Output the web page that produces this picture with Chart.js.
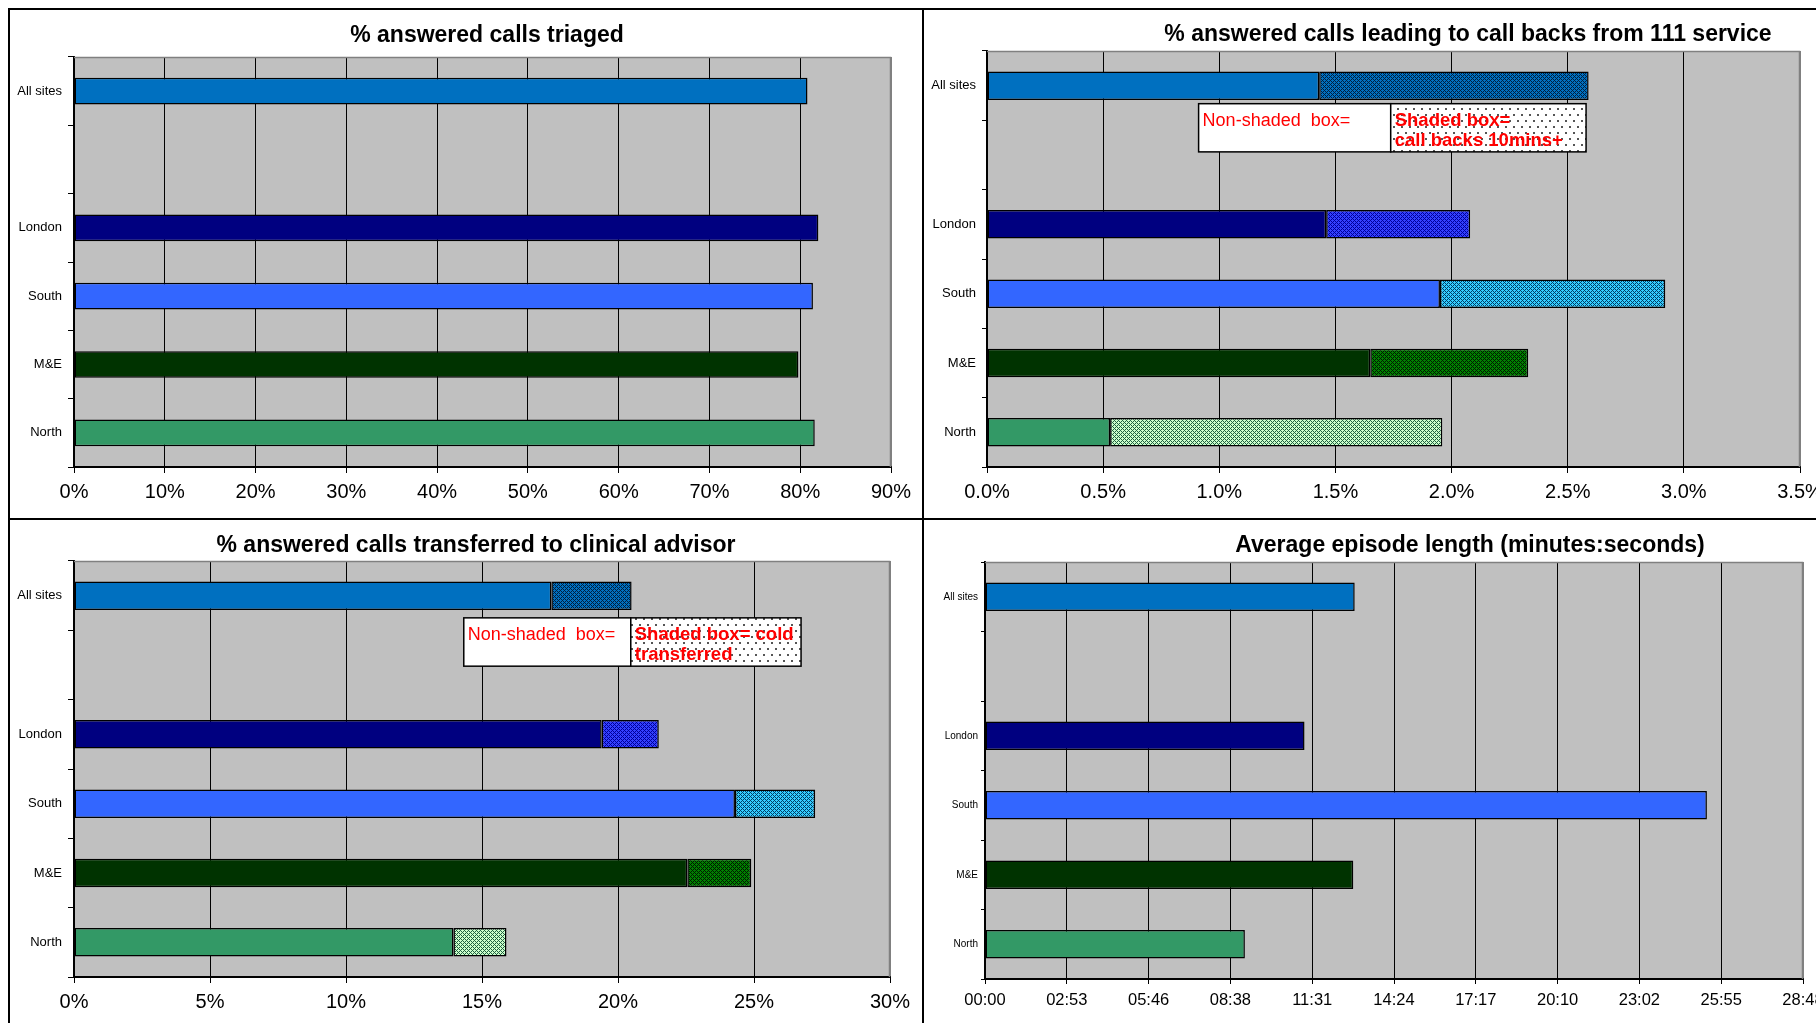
<!DOCTYPE html>
<html>
<head>
<meta charset="utf-8">
<title>111 service call handling by site</title>
<script src="https://cdn.jsdelivr.net/npm/chart.js@4.4.1/dist/chart.umd.min.js"></script>
<style>
  html, body { margin: 0; padding: 0; background: #fff; width: 1816px; height: 1023px; overflow: hidden; }
  .panel { position: absolute; }
  .rule { position: absolute; background: #000; }
  canvas { display: block; }
</style>
</head>
<body>
<div class="panel" style="left:10px;top:10px;"><canvas id="triaged" width="912" height="508"></canvas></div>
<div class="panel" style="left:924px;top:10px;"><canvas id="callbacks" width="1100" height="508"></canvas></div>
<div class="panel" style="left:10px;top:520px;"><canvas id="transfers" width="912" height="503"></canvas></div>
<div class="panel" style="left:924px;top:520px;"><canvas id="episode" width="1100" height="503"></canvas></div>

<div class="rule" style="left:8px;top:8px;width:1808px;height:2px;"></div>
<div class="rule" style="left:8px;top:8px;width:2px;height:1015px;"></div>
<div class="rule" style="left:922px;top:8px;width:2px;height:1015px;"></div>
<div class="rule" style="left:8px;top:518px;width:1808px;height:2px;"></div>

<script>
// ---- data -------------------------------------------------------------
const sites = ['All sites', '', 'London', 'South', 'M&E', 'North'];

// % of answered calls that were triaged
const triagedPct = [80.8, null, 82.0, 81.4, 79.8, 81.6];

// % of answered calls leading to a call back (within 10 mins / 10 mins+)
const callBackUnder10Pct = [1.43, null, 1.46, 1.95, 1.65, 0.53];
const callBackOver10Pct  = [1.16, null, 0.62, 0.97, 0.68, 1.43];

// % of answered calls transferred to a clinical advisor (warm / cold)
const transferWarmPct = [17.55, null, 19.40, 24.30, 22.55, 13.95];
const transferColdPct = [2.95, null, 2.10, 2.95, 2.35, 1.95];

// average episode length, seconds
const episodeSeconds = [781, null, 675, 1525, 778, 549];

// axis ticks
const triagedTicks  = [0, 10, 20, 30, 40, 50, 60, 70, 80, 90];
const callBackTicks = [0, 0.5, 1, 1.5, 2, 2.5, 3, 3.5];
const transferTicks = [0, 5, 10, 15, 20, 25, 30];
const episodeTickSeconds = [0, 172.8, 345.6, 518.4, 691.2, 864, 1036.8, 1209.6, 1382.4, 1555.2, 1728];
const episodeTickLabels  = ['00:00', '02:53', '05:46', '08:38', '11:31', '14:24', '17:17', '20:10', '23:02', '25:55', '28:48'];

// ---- styling ----------------------------------------------------------
const FONT = "'Liberation Sans', Arial, Helvetica, sans-serif";
Chart.defaults.font.family = FONT;
Chart.defaults.color = '#000';

const siteColours = ['#0070C0', '#ffffff', '#000080', '#3366FF', '#003300', '#339966'];
const hatchBack   = ['#0070C0', '#ffffff', '#3340FF', '#33CCFF', '#008000', '#CCFFCC'];
const hatchLine   = ['#002040', '#ffffff', '#00009A', '#003F66', '#001A00', '#1F6040'];

function makeHatch(bg, fg) {
  const c = document.createElement('canvas');
  c.width = 4; c.height = 4;
  const g = c.getContext('2d');
  g.fillStyle = bg; g.fillRect(0, 0, 4, 4);
  g.fillStyle = fg;
  for (let y = 0; y < 4; y++) {
    for (let x = 0; x < 4; x++) {
      if (x === y || (x + y) % 4 === 0) g.fillRect(x, y, 1, 1);
    }
  }
  return g.createPattern(c, 'repeat');
}

function makeDots() {
  const c = document.createElement('canvas');
  c.width = 8; c.height = 12;
  const g = c.getContext('2d');
  g.fillStyle = '#fff'; g.fillRect(0, 0, 8, 12);
  g.fillStyle = '#555';
  g.fillRect(1, 2, 2, 2);
  g.fillRect(5, 8, 2, 2);
  return g.createPattern(c, 'repeat');
}

const hatchPatterns = hatchBack.map((bg, i) => makeHatch(bg, hatchLine[i]));
const dotPattern = makeDots();

// grey plot area with a thin grey frame on its top and right edges
const plotFrame = {
  id: 'plotFrame',
  beforeDraw(chart) {
    const { ctx, chartArea: a } = chart;
    ctx.save();
    ctx.fillStyle = '#C0C0C0';
    ctx.fillRect(a.left, a.top, a.right - a.left, a.bottom - a.top);
    ctx.restore();
  },
  beforeDatasetsDraw(chart) {
    const { ctx, chartArea: a } = chart;
    ctx.save();
    ctx.strokeStyle = '#808080';
    ctx.lineWidth = 1.5;
    ctx.beginPath();
    ctx.moveTo(a.left, a.top + 0.5);
    ctx.lineTo(a.right - 0.5, a.top + 0.5);
    ctx.lineTo(a.right - 0.5, a.bottom);
    ctx.stroke();
    ctx.restore();
  }
};

// bold heading above each plot
const panelTitle = {
  id: 'panelTitle',
  afterDraw(chart, args, opts) {
    if (!opts.text) return;
    const ctx = chart.ctx;
    ctx.save();
    ctx.font = `bold ${opts.size}px ${FONT}`;
    ctx.fillStyle = '#000';
    ctx.textAlign = 'center';
    ctx.textBaseline = 'alphabetic';
    ctx.fillText(opts.text, opts.x, opts.y);
    ctx.restore();
  }
};

// key boxes explaining the plain and shaded bar segments
const keyBox = {
  id: 'keyBox',
  afterDatasetsDraw(chart, args, opts) {
    if (!opts.boxes) return;
    const xs = chart.scales.x, ys = chart.scales.y, ctx = chart.ctx;
    const top = ys.getPixelForValue(opts.from);
    const bottom = ys.getPixelForValue(opts.to);
    ctx.save();
    opts.boxes.forEach(b => {
      const l = xs.getPixelForValue(b.x0), r = xs.getPixelForValue(b.x1);
      ctx.fillStyle = b.dotted ? dotPattern : '#fff';
      ctx.fillRect(l, top, r - l, bottom - top);
      ctx.strokeStyle = '#000';
      ctx.lineWidth = 1.5;
      ctx.strokeRect(l, top, r - l, bottom - top);
      ctx.fillStyle = '#FF0000';
      ctx.font = `${b.bold ? 'bold ' : ''}${b.bold ? 18.5 : 18}px ${FONT}`;
      ctx.textAlign = 'left';
      ctx.textBaseline = 'alphabetic';
      b.lines.forEach((t, i) => ctx.fillText(t, l + 4, top + 22 + i * 20));
    });
    ctx.restore();
  }
};

function makeChart(id, cfg) {
  const lastTick = cfg.ticks.length - 1;
  const datasets = cfg.series.map((s, k) => ({
    data: s,
    backgroundColor: k === 0 ? siteColours : hatchPatterns,
    borderColor: '#000',
    borderWidth: 1.5,
    borderSkipped: false,
    categoryPercentage: 1,
    barPercentage: cfg.barPct
  }));
  return new Chart(document.getElementById(id), {
    type: 'bar',
    data: { labels: sites, datasets },
    plugins: [plotFrame, panelTitle, keyBox],
    options: {
      responsive: false,
      animation: false,
      indexAxis: 'y',
      layout: { padding: { left: 0, top: cfg.padTop, right: cfg.padRight, bottom: 0 } },
      plugins: {
        legend: { display: false },
        tooltip: { enabled: false },
        title: { display: false },
        panelTitle: cfg.title,
        keyBox: cfg.key || {}
      },
      scales: {
        x: {
          type: 'linear',
          stacked: true,
          min: cfg.ticks[0],
          max: cfg.ticks[lastTick],
          bounds: 'data',
          afterBuildTicks: s => { s.ticks = cfg.ticks.map(v => ({ value: v })); },
          afterFit: s => { s.height = cfg.xAxisHeight; },
          ticks: {
            autoSkip: false,
            maxRotation: 0,
            padding: cfg.xTickPad,
            font: { size: cfg.xFont },
            color: '#000',
            callback: (v, i) => cfg.tickLabel(v, i)
          },
          grid: {
            color: c => (c.index === lastTick ? '#808080' : '#000'),
            tickColor: '#000',
            lineWidth: 1,
            drawTicks: true,
            tickLength: cfg.xTickLen
          },
          border: { display: true, color: '#000', width: 2 }
        },
        y: {
          stacked: true,
          afterFit: s => { s.width = cfg.yAxisWidth; },
          ticks: {
            padding: cfg.yTickPad,
            font: { size: cfg.yFont },
            color: '#000',
            autoSkip: false
          },
          grid: {
            drawOnChartArea: false,
            drawTicks: true,
            tickLength: cfg.yTickLen,
            color: '#000',
            lineWidth: 1
          },
          border: { display: true, color: '#000', width: 2 }
        }
      }
    }
  });
}

makeChart('triaged', {
  series: [triagedPct],
  ticks: triagedTicks,
  tickLabel: v => v + '%',
  barPct: 0.39,
  padTop: 47, padRight: 31, yAxisWidth: 64, xAxisHeight: 51,
  xFont: 20, xTickLen: 6, xTickPad: 7,
  yFont: 13, yTickLen: 6, yTickPad: 6,
  title: { text: '% answered calls triaged', x: 477, y: 32, size: 23 }
});

makeChart('callbacks', {
  series: [callBackUnder10Pct, callBackOver10Pct],
  ticks: callBackTicks,
  tickLabel: v => v.toFixed(1) + '%',
  barPct: 0.41,
  padTop: 41, padRight: 224, yAxisWidth: 63, xAxisHeight: 51,
  xFont: 20, xTickLen: 6, xTickPad: 7,
  yFont: 13, yTickLen: 5, yTickPad: 6,
  title: { text: '% answered calls leading to call backs from 111 service', x: 544, y: 31, size: 23 },
  key: {
    from: 0.26, to: 0.955,
    boxes: [
      { x0: 0.911, x1: 1.738, dotted: false, bold: false, lines: ['Non-shaded  box='] },
      { x0: 1.738, x1: 2.579, dotted: true, bold: true, lines: ['Shaded box=', 'call backs 10mins+'] }
    ]
  }
});

makeChart('transfers', {
  series: [transferWarmPct, transferColdPct],
  ticks: transferTicks,
  tickLabel: v => v + '%',
  barPct: 0.41,
  padTop: 41, padRight: 32, yAxisWidth: 64, xAxisHeight: 46,
  xFont: 20, xTickLen: 6, xTickPad: 7,
  yFont: 13, yTickLen: 6, yTickPad: 6,
  title: { text: '% answered calls transferred to clinical advisor', x: 466, y: 32, size: 23 },
  key: {
    from: 0.32, to: 1.017,
    boxes: [
      { x0: 14.33, x1: 20.47, dotted: false, bold: false, lines: ['Non-shaded  box='] },
      { x0: 20.47, x1: 26.73, dotted: true, bold: true, lines: ['Shaded box= cold', 'transferred'] }
    ]
  }
});

makeChart('episode', {
  series: [episodeSeconds],
  ticks: episodeTickSeconds,
  tickLabel: (v, i) => episodeTickLabels[i],
  barPct: 0.41,
  padTop: 42, padRight: 221, yAxisWidth: 61, xAxisHeight: 44,
  xFont: 16.5, xTickLen: 5, xTickPad: 7,
  yFont: 10, yTickLen: 4, yTickPad: 3,
  title: { text: 'Average episode length (minutes:seconds)', x: 546, y: 32, size: 23 }
});
</script>
</body>
</html>
